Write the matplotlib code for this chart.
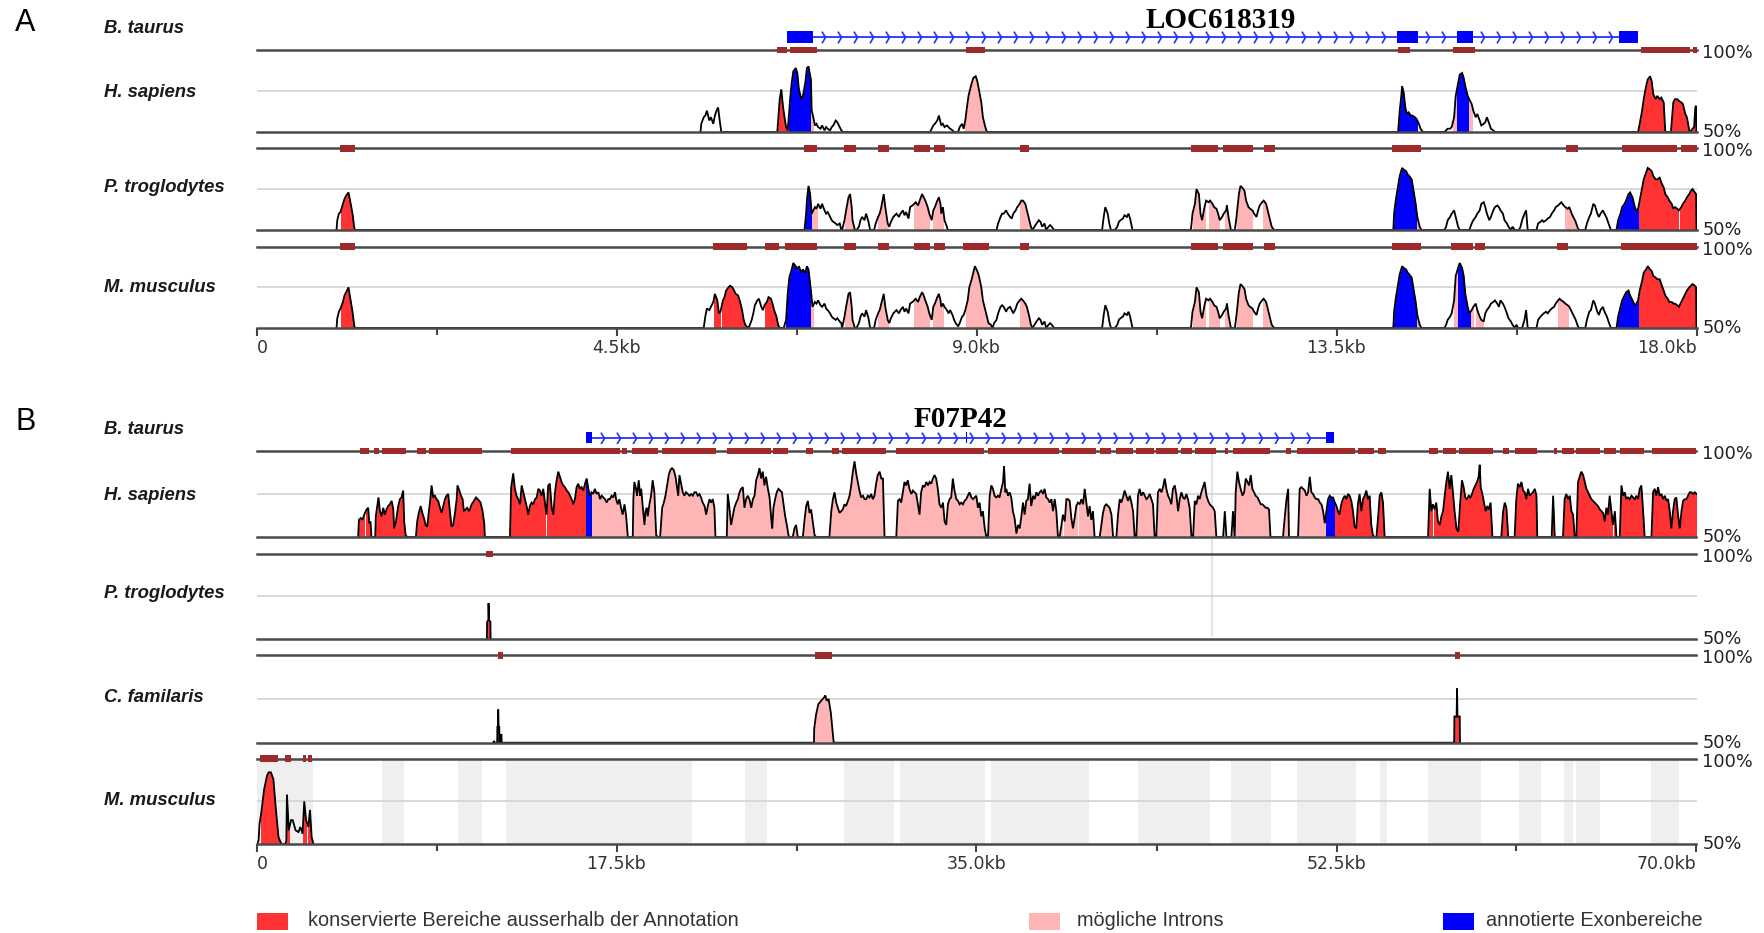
import numpy as np
import matplotlib
matplotlib.use("Agg")
import matplotlib.pyplot as plt
from matplotlib.patches import Rectangle

# ---------------------------------------------------------------- data
RED, PINK, BLUE, BAR = "#ff3333", "#ffb5b5", "#0000ff", "#9e2b2b"

# ---- Panel A: LOC618319 (0-18 kb)
A_LEN = 18.0
A_TICKS = [0, 4.5, 9.0, 13.5, 18.0]
A_TICK_LABELS = ["0", "4.5kb", "9.0kb", "13.5kb", "18.0kb"]
A_MINOR = [2.25, 6.75, 11.25, 15.75]
A_GENE = "LOC618319"
A_EXONS = [(6.63, 6.96), (14.25, 14.52), (15.01, 15.20), (17.03, 17.27)]
A_SPECIES = ["H. sapiens", "P. troglodytes", "M. musculus"]

# conservation profiles: (position kb, % identity)
A_HSAP = [
    (5.55, 50), (5.56, 55), (5.59, 59), (5.61, 60), (5.63, 63), (5.66, 57), (5.68, 59), (5.71, 55),
    (5.73, 60), (5.75, 63), (5.77, 65), (5.79, 57), (5.81, 50),
    (6.51, 50), (6.53, 63), (6.54, 70), (6.56, 76), (6.58, 66), (6.60, 59), (6.62, 53), (6.64, 51),
    (6.66, 63), (6.67, 70), (6.69, 80), (6.71, 87), (6.74, 89), (6.76, 86), (6.78, 76), (6.81, 70),
    (6.83, 72), (6.86, 80), (6.88, 89), (6.90, 90), (6.93, 82), (6.94, 63), (6.96, 59), (6.98, 54),
    (7.00, 55), (7.02, 53), (7.05, 52), (7.07, 54), (7.10, 51), (7.12, 53), (7.14, 52), (7.17, 51),
    (7.19, 53), (7.21, 54), (7.24, 57), (7.26, 56), (7.29, 53), (7.31, 51), (7.33, 50),
    (8.42, 50), (8.44, 52), (8.46, 54), (8.48, 55), (8.51, 57), (8.53, 60), (8.56, 54), (8.58, 55),
    (8.60, 53), (8.63, 54), (8.65, 53), (8.67, 52), (8.70, 51), (8.72, 50), (8.77, 50), (8.79, 53),
    (8.82, 55), (8.84, 52), (8.86, 57), (8.88, 65), (8.90, 72), (8.93, 78), (8.96, 83), (8.99, 84),
    (9.01, 81), (9.03, 76), (9.06, 68), (9.08, 59), (9.11, 53), (9.13, 50),
    (14.27, 50), (14.29, 63), (14.31, 72), (14.32, 78), (14.34, 74), (14.36, 65), (14.38, 61),
    (14.40, 62), (14.43, 60), (14.45, 60), (14.48, 59), (14.50, 58), (14.53, 55), (14.55, 52), (14.58, 50),
    (14.85, 50), (14.87, 51), (14.89, 52), (14.92, 52), (14.94, 53), (14.97, 59), (14.99, 72), (15.02, 80),
    (15.04, 85), (15.07, 86), (15.09, 83), (15.11, 78), (15.14, 72), (15.16, 70), (15.19, 67), (15.21, 63),
    (15.24, 59), (15.26, 61), (15.29, 57), (15.31, 54), (15.34, 55), (15.36, 56), (15.38, 59), (15.41, 55),
    (15.43, 52), (15.46, 51), (15.48, 50),
    (17.27, 50), (17.29, 55), (17.32, 63), (17.34, 70), (17.37, 78), (17.39, 82), (17.42, 84), (17.44, 81),
    (17.46, 73), (17.49, 70), (17.51, 72), (17.54, 70), (17.56, 71), (17.59, 68), (17.61, 50), (17.68, 50),
    (17.71, 68), (17.73, 70), (17.76, 70), (17.78, 69), (17.81, 68), (17.83, 67), (17.86, 61), (17.88, 59),
    (17.91, 51), (17.93, 50), (17.95, 52), (17.97, 53), (17.985, 65), (17.995, 66), (18.0, 50),
]
A_HSAP_FILL = {
    RED: [(6.52, 6.64), (17.27, 17.61), (17.68, 17.91), (17.95, 18.0)],
    BLUE: [(6.66, 6.93), (14.28, 14.50), (14.99, 15.16)],
    PINK: [(6.93, 6.96), (8.86, 9.12), (14.96, 14.99), (15.16, 15.19)],
}
A_HSAP_BARS = [(6.51, 6.63), (6.67, 7.00), (8.87, 9.10), (14.27, 14.42), (14.96, 15.23),
               (17.30, 17.92), (17.95, 18.0)]

PINK_CLUSTER = [
    (11.68, 50), (11.70, 60), (11.73, 66), (11.75, 75), (11.78, 72), (11.80, 60), (11.82, 56), (11.85, 64),
    (11.87, 68), (11.90, 67), (11.92, 68), (11.95, 66), (11.97, 64), (12.00, 63), (12.02, 60), (12.04, 56),
    (12.07, 58), (12.09, 60), (12.12, 62), (12.13, 65), (12.15, 58), (12.18, 50), (12.23, 50), (12.25, 58),
    (12.28, 72), (12.30, 77), (12.32, 76), (12.35, 74), (12.37, 68), (12.40, 64), (12.42, 63), (12.45, 62),
    (12.47, 60), (12.50, 58), (12.52, 62), (12.54, 65), (12.57, 67), (12.59, 68), (12.62, 66), (12.64, 62),
    (12.67, 56), (12.69, 52), (12.72, 50),
    (14.21, 50), (14.22, 60), (14.24, 68), (14.27, 77), (14.29, 83), (14.32, 88), (14.34, 87), (14.37, 86),
    (14.39, 84), (14.41, 83), (14.44, 81), (14.46, 75), (14.49, 66), (14.51, 58), (14.54, 52), (14.56, 50),
]

A_PTRO = [
    (1.00, 50), (1.01, 56), (1.03, 60), (1.05, 61), (1.08, 66), (1.10, 69), (1.12, 71), (1.15, 73),
    (1.17, 68), (1.20, 60), (1.22, 52), (1.23, 50),
    (6.85, 50), (6.87, 60), (6.88, 68), (6.90, 77), (6.92, 72), (6.94, 60), (6.96, 62), (6.98, 64),
    (7.00, 63), (7.02, 66), (7.05, 63), (7.07, 66), (7.10, 62), (7.12, 60), (7.14, 61), (7.17, 58),
    (7.19, 56), (7.21, 55), (7.24, 54), (7.26, 53), (7.29, 54), (7.31, 50), (7.32, 50),
    (7.35, 56), (7.37, 62), (7.40, 70), (7.42, 72), (7.44, 64), (7.45, 56), (7.48, 50), (7.50, 50),
    (7.53, 52), (7.55, 56), (7.57, 58), (7.60, 56), (7.62, 60), (7.65, 55), (7.67, 50),
    (7.72, 50), (7.74, 54), (7.77, 58), (7.79, 60), (7.81, 64), (7.84, 72), (7.86, 64), (7.89, 54),
    (7.91, 52), (7.93, 55), (7.96, 58), (7.98, 59), (8.00, 60), (8.03, 58), (8.05, 60), (8.08, 62),
    (8.10, 59), (8.12, 61), (8.15, 57), (8.17, 64), (8.20, 65), (8.22, 66), (8.24, 67), (8.27, 65),
    (8.29, 68), (8.32, 72), (8.34, 70), (8.36, 68), (8.39, 64), (8.41, 60), (8.44, 56), (8.46, 62),
    (8.48, 64), (8.51, 68), (8.53, 70), (8.55, 66), (8.56, 60), (8.58, 64), (8.60, 56), (8.63, 52), (8.64, 50),
    (9.25, 50), (9.27, 54), (9.30, 58), (9.32, 60), (9.34, 60), (9.37, 62), (9.39, 60), (9.42, 58),
    (9.44, 57), (9.46, 60), (9.49, 62), (9.51, 64), (9.54, 66), (9.56, 68), (9.58, 68), (9.61, 66),
    (9.63, 62), (9.66, 56), (9.68, 52), (9.70, 50), (9.75, 54), (9.78, 56), (9.80, 55), (9.82, 52),
    (9.85, 54), (9.87, 50), (9.90, 52), (9.92, 53), (9.94, 52), (9.97, 50),
    (10.57, 50), (10.59, 58), (10.61, 64), (10.64, 60), (10.66, 54), (10.68, 50), (10.73, 50), (10.76, 52),
    (10.78, 55), (10.80, 56), (10.83, 57), (10.85, 59), (10.88, 58), (10.90, 60), (10.92, 57), (10.95, 50),
] + PINK_CLUSTER + [
    (14.85, 50), (14.87, 52), (14.89, 56), (14.92, 58), (14.94, 60), (14.97, 62), (14.99, 58), (15.02, 52),
    (15.04, 50), (15.16, 50), (15.19, 54), (15.21, 56), (15.24, 58), (15.26, 60), (15.29, 62), (15.31, 66),
    (15.34, 67), (15.36, 64), (15.38, 60), (15.41, 56), (15.43, 58), (15.46, 62), (15.48, 64), (15.51, 65),
    (15.53, 64), (15.55, 62), (15.58, 60), (15.60, 56), (15.63, 54), (15.65, 52), (15.68, 50), (15.70, 52),
    (15.73, 50), (15.78, 50), (15.80, 52), (15.82, 56), (15.85, 60), (15.87, 62), (15.89, 50),
    (16.00, 50), (16.02, 54), (16.05, 55), (16.07, 56), (16.09, 55), (16.12, 56), (16.14, 57), (16.17, 58),
    (16.19, 60), (16.22, 62), (16.24, 64), (16.27, 65), (16.29, 66), (16.31, 67), (16.34, 65), (16.36, 64),
    (16.39, 63), (16.41, 64), (16.44, 60), (16.46, 58), (16.49, 55), (16.51, 52), (16.53, 50),
    (16.61, 50), (16.63, 54), (16.66, 58), (16.68, 60), (16.71, 66), (16.73, 65), (16.76, 60), (16.78, 58),
    (16.80, 60), (16.83, 62), (16.85, 60), (16.88, 57), (16.90, 54), (16.93, 50),
    (17.00, 50), (17.02, 56), (17.05, 60), (17.07, 64), (17.10, 66), (17.12, 68), (17.15, 72), (17.17, 73),
    (17.20, 70), (17.22, 66), (17.24, 62), (17.27, 63), (17.29, 68), (17.32, 76), (17.34, 81), (17.37, 85),
    (17.39, 88), (17.42, 87), (17.44, 86), (17.46, 83), (17.49, 81), (17.51, 81), (17.54, 82), (17.56, 79),
    (17.59, 76), (17.61, 72), (17.64, 70), (17.66, 68), (17.69, 66), (17.71, 63), (17.73, 64), (17.76, 63),
    (17.78, 62), (17.81, 64), (17.83, 66), (17.86, 68), (17.88, 70), (17.91, 72), (17.93, 74), (17.95, 75),
    (17.98, 73), (17.995, 72), (18.0, 50),
]
A_PTRO_FILL = {
    RED: [(1.05, 1.23), (17.27, 17.77), (17.79, 18.0)],
    BLUE: [(6.85, 6.94), (14.21, 14.50), (17.00, 17.27)],
    PINK: [(6.94, 7.00), (7.35, 7.48), (7.77, 7.89), (8.22, 8.41), (8.46, 8.58), (9.54, 9.68),
           (11.70, 11.86), (11.90, 12.03), (12.10, 12.19), (12.26, 12.44), (12.58, 12.73),
           (14.50, 14.52), (16.36, 16.49)],
}
A_PTRO_BARS = [(1.04, 1.23), (6.84, 7.01), (7.34, 7.49), (7.77, 7.91), (8.22, 8.42), (8.47, 8.60),
               (9.54, 9.66), (11.68, 12.02), (12.08, 12.46), (12.59, 12.73), (14.19, 14.55),
               (16.37, 16.52), (17.07, 17.76), (17.81, 18.0)]

A_MMUS = [
    (1.00, 50), (1.01, 56), (1.03, 60), (1.05, 62), (1.08, 66), (1.10, 70), (1.12, 72), (1.15, 75),
    (1.17, 69), (1.20, 60), (1.22, 52), (1.23, 50),
    (5.59, 50), (5.61, 57), (5.63, 62), (5.66, 61), (5.68, 63), (5.71, 66), (5.73, 71), (5.76, 67),
    (5.78, 59), (5.80, 60), (5.83, 67), (5.85, 69), (5.87, 73), (5.90, 75), (5.92, 76), (5.95, 75),
    (5.97, 73), (5.99, 71), (6.02, 70), (6.04, 67), (6.07, 61), (6.09, 55), (6.11, 52), (6.14, 50),
    (6.16, 51), (6.19, 55), (6.21, 59), (6.23, 64), (6.26, 67), (6.28, 68), (6.31, 63), (6.33, 61),
    (6.35, 64), (6.38, 66), (6.40, 69), (6.43, 68), (6.45, 65), (6.47, 61), (6.50, 57), (6.52, 52),
    (6.54, 50), (6.59, 50), (6.62, 55), (6.64, 71), (6.66, 81), (6.69, 86), (6.71, 90), (6.74, 88),
    (6.76, 86), (6.78, 88), (6.81, 84), (6.83, 86), (6.86, 84), (6.88, 88), (6.90, 86), (6.93, 73),
    (6.95, 63), (6.98, 66), (7.00, 65), (7.02, 67), (7.05, 64), (7.07, 63), (7.10, 65), (7.12, 62),
    (7.14, 61), (7.17, 59), (7.19, 57), (7.21, 56), (7.24, 55), (7.26, 56), (7.29, 54), (7.31, 53), (7.32, 50),
    (7.35, 57), (7.37, 63), (7.40, 71), (7.42, 72), (7.44, 63), (7.45, 55), (7.48, 50), (7.50, 50),
    (7.53, 53), (7.55, 57), (7.57, 59), (7.60, 57), (7.62, 61), (7.65, 56), (7.67, 50), (7.72, 50),
    (7.74, 55), (7.77, 59), (7.79, 61), (7.81, 65), (7.84, 71), (7.86, 63), (7.89, 55), (7.91, 53),
    (7.93, 56), (7.96, 59), (7.98, 60), (8.00, 61), (8.03, 59), (8.05, 61), (8.08, 63), (8.10, 60),
    (8.12, 62), (8.15, 59), (8.17, 65), (8.20, 66), (8.22, 67), (8.24, 68), (8.27, 66), (8.29, 69),
    (8.32, 72), (8.34, 70), (8.36, 67), (8.39, 63), (8.41, 59), (8.44, 55), (8.46, 63), (8.48, 65),
    (8.51, 69), (8.53, 71), (8.55, 67), (8.56, 63), (8.58, 65), (8.60, 63), (8.63, 61), (8.65, 59),
    (8.67, 61), (8.70, 58), (8.72, 55), (8.74, 53), (8.77, 51), (8.79, 53), (8.82, 57), (8.84, 58),
    (8.86, 61), (8.89, 67), (8.91, 75), (8.94, 80), (8.96, 84), (8.98, 88), (9.01, 85), (9.03, 82),
    (9.06, 75), (9.08, 67), (9.11, 61), (9.13, 57), (9.15, 53), (9.18, 52), (9.20, 50), (9.22, 53),
    (9.25, 55), (9.27, 59), (9.30, 63), (9.32, 64), (9.34, 63), (9.37, 60), (9.39, 62), (9.42, 63),
    (9.44, 61), (9.46, 59), (9.49, 62), (9.51, 65), (9.54, 67), (9.56, 68), (9.58, 67), (9.61, 65),
    (9.63, 63), (9.66, 57), (9.68, 52), (9.70, 50), (9.75, 54), (9.78, 56), (9.80, 55), (9.82, 52),
    (9.85, 54), (9.87, 50), (9.90, 52), (9.92, 53), (9.94, 52), (9.97, 50),
    (10.57, 50), (10.59, 58), (10.61, 64), (10.64, 60), (10.66, 54), (10.68, 50), (10.73, 50), (10.76, 52),
    (10.78, 55), (10.80, 56), (10.83, 57), (10.85, 59), (10.88, 58), (10.90, 60), (10.92, 57), (10.95, 50),
] + PINK_CLUSTER + [
    (14.85, 50), (14.87, 52), (14.89, 55), (14.92, 57), (14.94, 59), (14.97, 67), (14.99, 82), (15.02, 87),
    (15.04, 90), (15.07, 87), (15.09, 82), (15.11, 71), (15.14, 63), (15.16, 59), (15.19, 61), (15.21, 63),
    (15.24, 65), (15.26, 61), (15.29, 57), (15.31, 55), (15.34, 54), (15.36, 59), (15.38, 61), (15.41, 63),
    (15.43, 65), (15.46, 66), (15.48, 67), (15.51, 65), (15.53, 63), (15.55, 67), (15.58, 65), (15.60, 63),
    (15.63, 59), (15.65, 56), (15.68, 54), (15.70, 52), (15.73, 50), (15.75, 52), (15.77, 50), (15.82, 50),
    (15.85, 55), (15.87, 61), (15.89, 50),
    (16.00, 50), (16.02, 55), (16.05, 57), (16.07, 58), (16.09, 59), (16.12, 60), (16.14, 59), (16.17, 61),
    (16.19, 62), (16.22, 63), (16.24, 65), (16.27, 67), (16.29, 68), (16.31, 67), (16.34, 66), (16.36, 65),
    (16.39, 64), (16.41, 63), (16.44, 60), (16.46, 58), (16.49, 55), (16.51, 52), (16.53, 50),
    (16.61, 50), (16.63, 55), (16.66, 60), (16.68, 61), (16.71, 67), (16.73, 65), (16.76, 60), (16.78, 58),
    (16.80, 61), (16.83, 63), (16.85, 60), (16.88, 57), (16.90, 54), (16.93, 50),
    (17.00, 50), (17.02, 57), (17.05, 63), (17.07, 67), (17.10, 70), (17.12, 72), (17.15, 73), (17.17, 70),
    (17.20, 67), (17.22, 65), (17.24, 64), (17.27, 67), (17.29, 73), (17.32, 79), (17.34, 84), (17.37, 86),
    (17.39, 88), (17.42, 86), (17.44, 85), (17.46, 82), (17.49, 81), (17.51, 80), (17.54, 80), (17.56, 77),
    (17.59, 73), (17.61, 70), (17.64, 68), (17.66, 66), (17.69, 66), (17.71, 65), (17.73, 65), (17.76, 64),
    (17.78, 63), (17.81, 66), (17.83, 68), (17.86, 71), (17.88, 73), (17.91, 75), (17.93, 76), (17.95, 77),
    (17.98, 76), (17.995, 75), (18.0, 50),
]
A_MMUS_FILL = {
    RED: [(1.05, 1.23), (5.72, 5.80), (5.82, 6.14), (6.35, 6.52), (17.27, 18.0)],
    BLUE: [(6.62, 6.93), (14.21, 14.50), (15.01, 15.18), (17.00, 17.27)],
    PINK: [(6.93, 6.96), (7.35, 7.48), (7.77, 7.89), (8.22, 8.41), (8.46, 8.58), (8.87, 9.18),
           (9.54, 9.68), (11.70, 11.86), (11.90, 12.03), (12.10, 12.19), (12.26, 12.44),
           (12.58, 12.73), (14.50, 14.52), (14.97, 15.01), (15.18, 15.20), (15.24, 15.33), (16.27, 16.39)],
}
A_MMUS_BARS = [(1.04, 1.23), (5.71, 6.13), (6.36, 6.53), (6.61, 7.01), (7.34, 7.49), (7.77, 7.91),
               (8.22, 8.42), (8.47, 8.60), (8.83, 9.15), (9.54, 9.66), (11.68, 12.02), (12.08, 12.46),
               (12.59, 12.73), (14.19, 14.55), (14.93, 15.20), (15.23, 15.36), (16.26, 16.39), (17.05, 18.0)]

# ---- Panel B: F07P42 (0-70 kb)
B_LEN = 70.0
B_TICKS = [0, 17.5, 35.0, 52.5, 70.0]
B_TICK_LABELS = ["0", "17.5kb", "35.0kb", "52.5kb", "70.0kb"]
B_MINOR = [8.75, 26.25, 43.75, 61.25]
B_GENE = "F07P42"
B_EXONS = [(16.0, 16.33), (34.48, 34.56), (52.0, 52.4)]
B_SPECIES = ["H. sapiens", "P. troglodytes", "C. familaris", "M. musculus"]

B_HSAP = [
    (4.94, 50), (4.98, 60), (5.07, 61), (5.15, 60), (5.24, 63), (5.35, 66), (5.43, 67), (5.48, 58),
    (5.54, 59), (5.59, 50),
    (5.77, 50), (5.80, 62), (5.87, 68), (5.93, 73), (6.00, 65), (6.08, 62), (6.16, 67), (6.24, 63),
    (6.32, 66), (6.40, 68), (6.48, 69), (6.57, 71), (6.65, 66), (6.69, 55), (6.78, 59), (6.89, 68),
    (6.97, 72), (7.05, 73), (7.13, 77), (7.18, 59), (7.25, 51), (7.33, 50),
    (7.75, 50), (7.81, 59), (7.89, 64), (7.98, 68), (8.06, 64), (8.14, 61), (8.22, 57), (8.30, 56),
    (8.38, 65), (8.45, 72), (8.51, 80), (8.59, 73), (8.67, 74), (8.75, 72), (8.83, 71), (8.92, 67),
    (9.00, 64), (9.08, 68), (9.16, 72), (9.24, 74), (9.32, 75), (9.40, 65), (9.48, 56), (9.56, 57),
    (9.65, 64), (9.73, 72), (9.77, 80), (9.86, 77), (9.94, 74), (10.02, 72), (10.08, 65), (10.16, 66),
    (10.24, 67), (10.34, 65), (10.46, 69), (10.57, 71), (10.67, 73), (10.75, 72), (10.83, 71), (10.89, 70),
    (10.99, 65), (11.07, 58), (11.10, 50),
    (12.32, 50), (12.38, 79), (12.48, 87), (12.56, 78), (12.64, 74), (12.72, 72), (12.81, 69), (12.89, 80),
    (12.97, 76), (13.05, 72), (13.13, 68), (13.21, 63), (13.29, 68), (13.37, 70), (13.45, 69), (13.54, 72),
    (13.62, 73), (13.70, 78), (13.78, 77), (13.86, 74), (13.94, 78), (14.02, 70), (14.10, 63), (14.18, 80),
    (14.26, 81), (14.35, 67), (14.43, 63), (14.51, 76), (14.59, 83), (14.67, 88), (14.75, 85), (14.83, 82),
    (14.91, 80), (14.99, 79), (15.08, 77), (15.16, 76), (15.24, 74), (15.32, 72), (15.40, 69), (15.48, 72),
    (15.56, 79), (15.64, 81), (15.72, 78), (15.80, 79), (15.89, 77), (15.97, 81), (16.05, 84), (16.13, 78),
    (16.21, 74), (16.29, 76), (16.37, 75), (16.45, 78), (16.53, 75), (16.62, 76), (16.70, 72), (16.78, 74),
    (16.86, 73), (16.94, 72), (17.02, 70), (17.10, 72), (17.18, 72), (17.26, 74), (17.34, 73), (17.43, 76),
    (17.48, 72), (17.56, 69), (17.64, 72), (17.72, 67), (17.80, 63), (17.89, 69), (17.97, 62), (18.05, 50),
    (18.29, 50), (18.32, 72), (18.37, 82), (18.45, 78), (18.50, 74), (18.58, 83), (18.65, 74), (18.70, 78),
    (18.78, 67), (18.86, 57), (18.91, 65), (18.97, 67), (19.02, 62), (19.10, 69), (19.18, 74), (19.26, 83),
    (19.34, 76), (19.43, 51), (19.51, 50),
    (19.62, 50), (19.72, 67), (19.80, 70), (19.88, 74), (19.96, 80), (20.04, 86), (20.12, 89), (20.20, 90),
    (20.28, 89), (20.37, 85), (20.45, 78), (20.50, 74), (20.56, 86), (20.64, 81), (20.72, 76), (20.80, 74),
    (20.88, 76), (20.97, 75), (21.05, 74), (21.13, 75), (21.21, 74), (21.29, 76), (21.37, 76), (21.45, 74),
    (21.53, 75), (21.61, 73), (21.69, 70), (21.78, 68), (21.86, 63), (21.94, 68), (22.02, 72), (22.10, 70),
    (22.18, 72), (22.26, 67), (22.31, 50),
    (22.86, 50), (22.91, 75), (22.99, 67), (23.07, 57), (23.15, 62), (23.23, 67), (23.32, 70), (23.40, 72),
    (23.48, 76), (23.56, 78), (23.64, 79), (23.72, 67), (23.80, 72), (23.88, 74), (23.96, 72), (24.05, 67),
    (24.13, 72), (24.21, 74), (24.29, 83), (24.37, 86), (24.45, 90), (24.53, 84), (24.61, 88), (24.69, 80),
    (24.77, 85), (24.86, 78), (24.94, 73), (25.02, 61), (25.07, 55), (25.13, 67), (25.21, 72), (25.29, 76),
    (25.37, 78), (25.46, 77), (25.54, 76), (25.62, 69), (25.70, 62), (25.78, 57), (25.86, 51), (25.91, 50),
    (26.07, 50), (26.15, 55), (26.23, 57), (26.31, 50), (26.56, 50), (26.64, 60), (26.72, 68), (26.80, 71),
    (26.88, 64), (26.96, 66), (27.04, 59), (27.13, 51), (27.21, 50),
    (27.85, 50), (27.94, 65), (28.02, 72), (28.10, 76), (28.18, 70), (28.26, 67), (28.34, 64), (28.42, 65),
    (28.50, 66), (28.58, 69), (28.66, 68), (28.75, 71), (28.83, 74), (28.91, 80), (28.99, 88), (29.07, 94),
    (29.15, 87), (29.23, 82), (29.31, 77), (29.39, 73), (29.48, 74), (29.56, 72), (29.64, 72), (29.72, 74),
    (29.80, 73), (29.88, 75), (29.96, 72), (30.04, 74), (30.12, 81), (30.20, 86), (30.29, 88), (30.37, 84),
    (30.45, 84), (30.53, 50),
    (31.10, 50), (31.18, 71), (31.26, 72), (31.34, 70), (31.42, 76), (31.50, 82), (31.58, 80), (31.66, 83),
    (31.74, 78), (31.83, 75), (31.91, 77), (31.99, 76), (32.07, 75), (32.15, 69), (32.23, 63), (32.31, 76),
    (32.39, 80), (32.47, 79), (32.56, 82), (32.64, 80), (32.72, 82), (32.80, 81), (32.88, 84), (32.96, 86),
    (33.04, 84), (33.12, 78), (33.20, 69), (33.29, 67), (33.37, 70), (33.45, 59), (33.53, 57), (33.61, 69),
    (33.69, 72), (33.77, 73), (33.85, 84), (33.93, 77), (34.02, 72), (34.10, 71), (34.18, 69), (34.26, 70),
    (34.34, 69), (34.42, 71), (34.50, 72), (34.58, 74), (34.66, 76), (34.75, 73), (34.83, 72), (34.99, 74),
    (35.07, 67), (35.15, 70), (35.23, 62), (35.31, 65), (35.40, 55), (35.48, 50),
    (35.56, 50), (35.64, 74), (35.72, 80), (35.80, 78), (35.88, 74), (35.96, 73), (36.04, 74), (36.12, 73),
    (36.21, 78), (36.29, 82), (36.34, 91), (36.40, 76), (36.45, 78), (36.53, 74), (36.61, 76), (36.69, 73),
    (36.77, 65), (36.85, 61), (36.94, 52), (37.02, 57), (37.10, 55), (37.18, 62), (37.26, 70), (37.34, 63),
    (37.42, 71), (37.50, 72), (37.58, 81), (37.66, 68), (37.75, 74), (37.83, 72), (37.91, 76), (37.99, 74),
    (38.07, 76), (38.15, 77), (38.23, 75), (38.31, 78), (38.39, 73), (38.48, 72), (38.56, 70), (38.64, 72),
    (38.72, 65), (38.80, 72), (38.88, 65), (38.96, 50),
    (39.04, 50), (39.12, 56), (39.20, 63), (39.29, 59), (39.37, 72), (39.45, 72), (39.53, 71), (39.61, 61),
    (39.69, 55), (39.77, 61), (39.85, 68), (39.93, 70), (40.02, 69), (40.10, 72), (40.18, 69), (40.26, 78),
    (40.34, 70), (40.42, 62), (40.50, 68), (40.58, 60), (40.66, 65), (40.74, 50),
    (40.99, 50), (41.07, 57), (41.15, 64), (41.23, 68), (41.31, 69), (41.39, 68), (41.47, 67), (41.56, 63),
    (41.64, 50),
    (41.80, 50), (41.88, 63), (41.96, 72), (42.04, 70), (42.12, 73), (42.20, 77), (42.28, 74), (42.37, 71),
    (42.45, 74), (42.53, 70), (42.61, 65), (42.69, 50),
    (42.77, 50), (42.85, 74), (42.93, 78), (43.01, 74), (43.10, 76), (43.18, 74), (43.26, 72), (43.34, 73),
    (43.42, 75), (43.50, 72), (43.58, 69), (43.66, 50),
    (43.74, 50), (43.82, 76), (43.91, 78), (43.99, 76), (44.07, 79), (44.15, 84), (44.23, 78), (44.31, 74),
    (44.39, 72), (44.47, 69), (44.55, 78), (44.64, 80), (44.72, 74), (44.80, 65), (44.88, 72), (44.96, 76),
    (45.04, 73), (45.12, 72), (45.20, 75), (45.28, 72), (45.36, 67), (45.45, 50),
    (45.53, 50), (45.61, 71), (45.69, 69), (45.77, 74), (45.85, 72), (45.93, 76), (46.01, 79), (46.09, 82),
    (46.18, 74), (46.26, 71), (46.34, 69), (46.42, 68), (46.50, 67), (46.58, 65), (46.66, 50),
    (46.99, 50), (47.07, 65), (47.15, 50), (47.39, 50), (47.47, 65), (47.55, 50),
    (47.60, 76), (47.68, 88), (47.76, 82), (47.84, 78), (47.93, 74), (48.01, 76), (48.09, 84), (48.17, 82),
    (48.25, 80), (48.33, 86), (48.41, 78), (48.49, 76), (48.57, 74), (48.66, 73), (48.74, 71), (48.82, 69),
    (48.90, 69), (48.98, 68), (49.06, 67), (49.14, 67), (49.22, 66), (49.29, 50),
    (49.90, 50), (49.98, 61), (50.07, 72), (50.15, 78), (50.19, 50),
    (50.63, 50), (50.71, 78), (50.79, 79), (50.88, 78), (50.96, 77), (51.04, 74), (51.12, 76), (51.20, 85),
    (51.28, 76), (51.36, 75), (51.44, 73), (51.52, 72), (51.61, 72), (51.69, 70), (51.77, 69), (51.85, 65),
    (51.93, 58), (52.01, 65), (52.09, 72), (52.17, 74), (52.25, 73), (52.33, 73), (52.42, 70), (52.50, 68),
    (52.57, 65), (52.65, 63), (52.73, 69), (52.81, 72), (52.90, 74), (52.98, 72), (53.06, 75), (53.14, 74),
    (53.22, 71), (53.30, 65), (53.38, 56), (53.46, 55), (53.54, 69), (53.62, 75), (53.71, 65), (53.79, 72),
    (53.87, 74), (53.95, 77), (54.03, 72), (54.11, 74), (54.19, 57), (54.27, 51), (54.35, 50),
    (54.44, 50), (54.52, 61), (54.60, 74), (54.68, 76), (54.76, 70), (54.84, 50),
    (56.95, 50), (57.03, 78), (57.11, 65), (57.19, 69), (57.27, 66), (57.35, 70), (57.43, 59), (57.52, 57),
    (57.60, 62), (57.68, 65), (57.76, 74), (57.84, 82), (57.92, 88), (58.00, 78), (58.08, 86), (58.16, 76),
    (58.24, 65), (58.33, 55), (58.42, 53), (58.52, 71), (58.60, 83), (58.68, 79), (58.76, 73), (58.84, 72),
    (58.93, 74), (59.01, 73), (59.09, 75), (59.17, 78), (59.25, 80), (59.33, 82), (59.41, 85), (59.46, 92),
    (59.51, 79), (59.59, 75), (59.67, 70), (59.75, 65), (59.83, 68), (59.91, 66), (59.99, 70), (60.08, 50),
    (60.51, 50), (60.60, 65), (60.68, 70), (60.76, 67), (60.85, 50),
    (61.16, 50), (61.24, 72), (61.32, 81), (61.41, 79), (61.49, 82), (61.57, 77), (61.65, 76), (61.73, 72),
    (61.81, 78), (61.89, 74), (61.97, 75), (62.05, 76), (62.14, 78), (62.22, 74), (62.26, 50),
    (62.96, 50), (63.03, 74), (63.11, 50),
    (63.51, 50), (63.59, 72), (63.67, 75), (63.76, 72), (63.84, 74), (63.92, 65), (64.00, 63), (64.08, 50),
    (64.16, 50), (64.24, 82), (64.32, 85), (64.40, 88), (64.49, 86), (64.57, 82), (64.65, 78), (64.73, 76),
    (64.81, 74), (64.89, 72), (64.97, 71), (65.05, 70), (65.13, 69), (65.21, 68), (65.30, 66), (65.38, 65),
    (65.46, 64), (65.54, 59), (65.62, 67), (65.70, 63), (65.78, 74), (65.86, 65), (65.94, 57), (66.03, 65),
    (66.11, 50),
    (66.27, 50), (66.35, 80), (66.43, 74), (66.51, 76), (66.59, 72), (66.67, 73), (66.75, 72), (66.84, 74),
    (66.92, 73), (67.00, 72), (67.08, 74), (67.16, 72), (67.24, 78), (67.32, 80), (67.40, 66), (67.48, 50),
    (67.81, 50), (67.89, 76), (67.97, 78), (68.05, 74), (68.13, 79), (68.21, 74), (68.29, 75), (68.38, 72),
    (68.46, 74), (68.54, 71), (68.62, 72), (68.70, 65), (68.78, 55), (68.86, 65), (68.94, 72), (69.02, 73),
    (69.10, 63), (69.19, 55), (69.27, 65), (69.35, 71), (69.43, 72), (69.51, 72), (69.59, 74), (69.67, 76),
    (69.75, 76), (69.83, 75), (69.92, 76), (70.00, 75),
]
B_HSAP_FILL = {
    RED: [(4.90, 5.24), (5.30, 6.18), (6.24, 8.97), (9.03, 10.23), (10.29, 13.13), (13.19, 14.04),
          (14.10, 14.42), (14.48, 16.02), (52.37, 57.16), (57.22, 59.72), (59.78, 60.73),
          (60.79, 62.19), (62.25, 65.59), (65.65, 65.91), (65.97, 68.75), (68.81, 70.0)],
    BLUE: [(16.02, 16.29), (51.93, 52.37)],
    PINK: [(16.29, 18.83), (18.89, 23.12), (23.18, 25.04), (25.10, 28.31), (28.37, 33.26),
           (33.32, 36.91), (36.97, 39.17), (39.23, 39.90), (39.96, 40.31), (40.37, 42.25),
           (42.31, 48.71), (48.77, 51.93)],
}
B_HSAP_BARS = [(5.02, 5.49), (5.69, 5.95), (6.10, 7.26), (7.78, 8.22), (8.37, 10.98), (12.37, 17.67),
               (17.77, 18.01), (18.26, 19.51), (19.72, 22.34), (22.86, 25.02), (25.13, 25.86),
               (26.69, 27.04), (27.98, 28.31), (28.47, 30.58), (31.10, 35.35), (35.56, 39.01),
               (39.17, 40.79), (41.02, 41.56), (41.77, 42.61), (42.77, 43.61), (43.74, 44.80),
               (44.93, 45.49), (45.61, 46.66), (47.07, 47.24), (47.47, 49.29), (50.03, 50.31),
               (50.58, 53.38), (53.54, 54.31), (54.52, 54.89), (56.98, 57.43), (57.68, 58.29),
               (58.46, 60.11), (60.60, 60.87), (61.19, 62.25), (63.06, 63.22), (63.45, 64.03),
               (64.13, 65.30), (65.51, 66.07), (66.30, 67.44), (67.86, 70.0)]

B_PTRO = [(11.20, 50), (11.21, 60), (11.27, 61), (11.28, 71), (11.30, 61), (11.37, 60), (11.38, 50)]
B_PTRO_FILL = {RED: [(11.20, 11.38)]}
B_PTRO_BARS = [(11.16, 11.48)]
B_PTRO_GAP_MARK = 46.46   # unaligned stretch marker line

B_CFAM = [
    (11.50, 50), (11.55, 51), (11.58, 50), (11.70, 50), (11.71, 59), (11.74, 59), (11.75, 69), (11.77, 59),
    (11.80, 59), (11.81, 50), (11.88, 50), (11.90, 55), (11.92, 50),
    (27.10, 50), (27.11, 58), (27.20, 66), (27.31, 72), (27.45, 74), (27.60, 76), (27.65, 77), (27.72, 74),
    (27.81, 75), (27.92, 67), (28.00, 57), (28.06, 50),
    (58.22, 50), (58.23, 65), (58.34, 65), (58.36, 81), (58.38, 65), (58.49, 65), (58.50, 50),
]
B_CFAM_FILL = {RED: [(11.70, 11.81), (58.22, 58.50)], PINK: [(27.10, 28.06)]}
B_CFAM_BARS = [(11.72, 12.0), (27.16, 27.96), (58.26, 58.52)]

B_MMUS = [
    (0.03, 50), (0.10, 52), (0.15, 62), (0.23, 68), (0.37, 82), (0.51, 90), (0.59, 92), (0.70, 92),
    (0.82, 88), (0.93, 72), (1.07, 54), (1.21, 50), (1.40, 50), (1.45, 52), (1.48, 79), (1.57, 58),
    (1.68, 64), (1.76, 64), (1.90, 58), (2.04, 57), (2.13, 60), (2.24, 56), (2.32, 75), (2.41, 64),
    (2.52, 60), (2.60, 70), (2.68, 54), (2.77, 50),
]
B_MMUS_FILL = {RED: [(0.23, 1.15), (1.42, 1.57), (2.24, 2.41), (2.52, 2.77)]}
B_MMUS_BARS = [(0.15, 1.06), (1.40, 1.68), (2.24, 2.41), (2.52, 2.68)]
B_MMUS_UNALIGNED = [(0.0, 2.75), (6.09, 7.15), (9.80, 10.97), (12.15, 21.16), (23.73, 24.80),
                    (28.56, 31.0), (31.28, 35.39), (35.72, 40.46), (42.87, 46.36), (47.37, 49.31),
                    (50.60, 53.43), (54.63, 54.94), (56.96, 59.51), (61.38, 62.45), (63.54, 63.98),
                    (64.12, 65.32), (67.81, 69.13)]

LEGEND = [(RED, "konservierte Bereiche ausserhalb der Annotation"),
          (PINK, "mögliche Introns"),
          (BLUE, "annotierte Exonbereiche")]

# ---------------------------------------------------------------- layout helpers
W, H = 1764, 933
fig = plt.figure(figsize=(W / 100, H / 100), dpi=100)
fig.patch.set_facecolor("white")
X0, X1 = 256.5, 1696.5


def fx(px):
    return px / W


def fy(py):
    return 1 - py / H


def track(top, bottom, length):
    ax = fig.add_axes([fx(X0), fy(bottom), (X1 - X0) / W, (bottom - top) / H])
    ax.set_xlim(0, length)
    ax.set_ylim(50, 100)
    ax.patch.set_visible(False)
    for s in ("left", "right"):
        ax.spines[s].set_visible(False)
    for s in ("top", "bottom"):
        ax.spines[s].set_color("#4a4a4a")
        ax.spines[s].set_linewidth(1.8)
        ax.spines[s].set_zorder(6)
    ax.set_xticks([])
    ax.set_yticks([])
    ax.axhline(75, color="#d8d8d8", lw=1.4, zorder=0.5)
    for yv, lab, dy in ((1, "100%", -3), (0, "50%", 0)):
        ax.annotate(lab, xy=(1, yv), xycoords="axes fraction", xytext=(6, dy),
                    textcoords="offset pixels", ha="left", va="center",
                    fontsize=12.8, color="#222222", family="DejaVu Sans")
    return ax


def profile(ax, pts, fills, bars, bar_h):
    xs = np.array([p[0] for p in pts])
    ys = np.array([p[1] for p in pts])
    for color, spans in fills.items():
        for a, b in spans:
            poly = ax.fill_between(xs, 50, ys, color=color, lw=0, zorder=2)
            poly.set_clip_path(Rectangle((a, 40), b - a, 70, transform=ax.transData))
    ax.plot(xs, ys, color="black", lw=1.3, zorder=3, solid_joinstyle="miter")
    ax.broken_barh([(a, b - a) for a, b in bars], (100 - bar_h / 2, bar_h),
                   facecolors=BAR, edgecolor="none", zorder=7, clip_on=False)


def axis_ticks(ax, major, labels, minor):
    ax.set_xticks(major)
    ax.set_xticklabels(labels)
    ax.set_xticks(minor, minor=True)
    ax.tick_params(axis="x", which="major", length=6, width=1.5, color="#444444",
                   labelsize=12.5, labelcolor="#333333", pad=2)
    ax.tick_params(axis="x", which="minor", length=5, width=1.5, color="#444444")
    ticklabels = ax.get_xticklabels()
    ticklabels[0].set_horizontalalignment("left")
    ticklabels[-1].set_horizontalalignment("right")
    for t in ticklabels:
        t.set_family("DejaVu Sans")


CHEVRON = [(-0.6, 1.0), (0.0, 0.0), (-0.6, -1.0)]


def gene(top, bottom, length, exons, introns, step):
    gx = fig.add_axes([fx(X0), fy(bottom), (X1 - X0) / W, (bottom - top) / H])
    gx.set_xlim(0, length)
    gx.set_ylim(0, 1)
    gx.axis("off")
    for a, b in introns:
        gx.plot([a, b], [0.5, 0.5], color="#2233ff", lw=1.3, zorder=1)
        cx = np.arange(a + step * 0.7, b - step * 0.25, step)
        gx.plot(cx, np.full_like(cx, 0.5), ls="none", marker=CHEVRON, ms=8.5,
                mec="#2233ff", mfc="none", mew=1.2, zorder=2)
    gx.broken_barh([(a, b - a) for a, b in exons], (0, 1), facecolors=BLUE, zorder=3)
    return gx


label_kw = dict(ha="left", va="center", fontsize=13.3, fontweight="bold", fontstyle="italic",
                family="Liberation Sans", color="#1a1a1a")

# ---------------------------------------------------------------- panel A
fig.text(fx(15), fy(23), "A", ha="left", va="center", fontsize=22, family="Liberation Sans")
fig.text(fx(104), fy(28.5), "B. taurus", **label_kw)
fig.text(fx(1221), fy(20), A_GENE, ha="center", va="center", fontsize=21,
         fontweight="bold", family="Liberation Serif")
gene(30.7, 43.3, A_LEN, A_EXONS,
     [(A_EXONS[i][1], A_EXONS[i + 1][0]) for i in range(len(A_EXONS) - 1)], 0.2)

a_rows = [(50, 132, A_HSAP, A_HSAP_FILL, A_HSAP_BARS, 92.5),
          (148.3, 230, A_PTRO, A_PTRO_FILL, A_PTRO_BARS, 188),
          (246.7, 328, A_MMUS, A_MMUS_FILL, A_MMUS_BARS, 287)]
for (top, bottom, pts, fills, bars, ly), name in zip(a_rows, A_SPECIES):
    ax = track(top, bottom, A_LEN)
    profile(ax, pts, fills, bars, 4.0)
    fig.text(fx(104), fy(ly), name, **label_kw)
axis_ticks(ax, A_TICKS, A_TICK_LABELS, A_MINOR)

# ---------------------------------------------------------------- panel B
fig.text(fx(15), fy(422), "B", ha="left", va="center", fontsize=22, family="Liberation Sans")
fig.text(fx(104), fy(429), "B. taurus", **label_kw)
fig.text(fx(960), fy(419.5), B_GENE, ha="center", va="center", fontsize=21,
         fontweight="bold", family="Liberation Serif")
gene(431.7, 443.3, B_LEN, B_EXONS,
     [(B_EXONS[0][1], B_EXONS[-1][0])], 0.78)

b_rows = [(451, 537, B_HSAP, B_HSAP_FILL, B_HSAP_BARS, 495.5),
          (554, 638.7, B_PTRO, B_PTRO_FILL, B_PTRO_BARS, 594),
          (655.3, 742.7, B_CFAM, B_CFAM_FILL, B_CFAM_BARS, 697),
          (758.7, 844, B_MMUS, B_MMUS_FILL, B_MMUS_BARS, 800.5)]
b_axes = []
for (top, bottom, pts, fills, bars, ly), name in zip(b_rows, B_SPECIES):
    ax = track(top, bottom, B_LEN)
    profile(ax, pts, fills, bars, 3.8)
    fig.text(fx(104), fy(ly), name, **label_kw)
    b_axes.append(ax)

b_axes[0].axvline(B_PTRO_GAP_MARK, ymin=-0.2, ymax=1, color="#e4e4e4", lw=1.5, zorder=0.4, clip_on=False)
b_axes[1].axvline(B_PTRO_GAP_MARK, ymin=0.04, ymax=1, color="#e4e4e4", lw=1.5, zorder=0.4)
for a, b in B_MMUS_UNALIGNED:
    b_axes[3].axvspan(a, b, color="#efefef", lw=0, zorder=0.2)
axis_ticks(b_axes[3], B_TICKS, B_TICK_LABELS, B_MINOR)

# ---------------------------------------------------------------- legend
for (color, text), sx, tx in zip(LEGEND, (256.5, 1029, 1443), (308, 1077, 1486)):
    fig.add_artist(Rectangle((fx(sx), fy(929.5)), 31 / W, 17 / H, transform=fig.transFigure,
                             facecolor=color, edgecolor="none"))
    fig.text(fx(tx), fy(921), text, ha="left", va="center", fontsize=14.3,
             family="Liberation Sans", color="#333333")

fig.savefig("out.png", dpi=100, facecolor="white")
